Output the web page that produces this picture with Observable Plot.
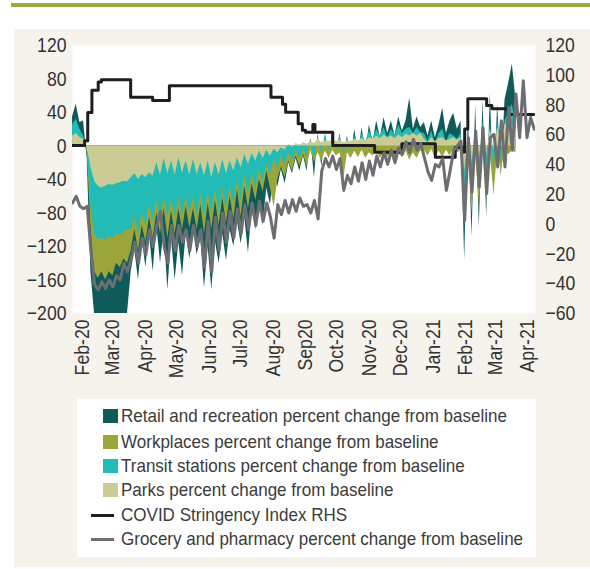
<!DOCTYPE html>
<html><head><meta charset="utf-8">
<script src="https://cdn.jsdelivr.net/npm/d3@7"></script>
<script src="https://cdn.jsdelivr.net/npm/@observablehq/plot@0.6"></script>
<style>
body{margin:0;background:#fff;}
#wrap{position:relative;width:590px;height:569px;overflow:hidden;font-family:'Liberation Sans',Arial,sans-serif;}
#rule{position:absolute;left:11px;top:3px;width:579px;height:4px;background:#9cab3e;}
#panel{position:absolute;left:14px;top:29px;width:576px;height:538px;background:#f6f2ec;}
#chart{position:absolute;left:0;top:0;}
#legend{position:absolute;left:77px;top:399px;width:459px;height:158px;background:#fff;}
.item{position:absolute;left:0;width:459px;height:24px;}
.item span{position:absolute;left:44px;top:0;line-height:24px;font-size:18.5px;color:#3b3b3b;white-space:nowrap;display:inline-block;transform:scaleX(0.92);transform-origin:0 50%;}
.sq{position:absolute;left:26px;top:5px;width:15px;height:14px;}
.ln{position:absolute;left:14px;top:11px;width:23px;height:3px;}
</style></head>
<body><div id="wrap"><div id="rule"></div><div id="panel"></div><div id="chart"></div><div id="legend"></div></div>
<script>
// ---- data (one value every 3.5 days from 22 Jan 2020) ----
const seriesStart = Date.UTC(2020, 0, 22, 12);
const seriesStepDays = 3.5;

const retail = [35,50,28,30,-15,-150,-200,-200,-200,-200,-200,-200,-200,-200,-200,-200,
-150,-125,-160,-110,-145,-105,-150,-95,-140,-100,-172,-110,-160,-115,-155,-105,-135,
-100,-130,-110,-170,-120,-172,-115,-140,-105,-137,-100,-120,-90,-117,-85,-128,-75,-100,-65,-95,-50,-70,-35,-49,-28,-45,-20,-33,-15,-30,-12,
-30,10,-38,15,-25,12,-15,18,-10,15,-20,12,-15,20,-10,22,-8,25,5,30,10,34,15,30,12,35,18,30,57,20,35,22,
28,12,30,10,25,45,15,30,39,20,30,-137,40,-109,50,-97,55,-85,63,-60,50,-37,55,75,98,55];

const workplaces = [8,6,10,4,-8,-95,-150,-158,-150,-160,-150,-155,-140,-145,-135,-140,
-125,-100,-125,-95,-115,-85,-110,-80,-105,-75,-110,-78,-105,-75,-100,-72,-98,
-75,-100,-70,-105,-68,-100,-65,-95,-62,-92,-60,-88,-52,-85,-48,-75,-45,-65,-40,-55,-30,-50,-73,-40,-25,-38,-18,-30,-12,-25,-10,
-25,-5,-20,-8,-18,-6,-15,-5,-12,-8,-40,-8,-15,-6,-14,-5,-15,-8,-12,-6,-15,-8,-14,-6,-16,-8,-14,-6,-17,-8,-15,-6,
-5,-12,-4,-15,-6,-14,-5,-12,-4,-8,-6,-97,-10,-81,-12,-70,-8,-65,-10,-57,-8,-30,-5,-10,-6,-8];

const transit = [25,32,20,12,-5,-70,-105,-112,-110,-113,-108,-110,-105,-107,-103,-100,
-100,-85,-105,-80,-95,-70,-90,-65,-88,-62,-85,-65,-85,-62,-82,-62,-80,
-60,-82,-58,-85,-55,-82,-52,-80,-50,-75,-48,-70,-40,-65,-35,-58,-33,-50,-28,-42,-22,-35,-15,-28,-12,-22,-8,-18,-5,-15,-3,
-12,8,-18,12,-10,15,-5,10,-5,12,-10,8,-5,12,-3,15,5,18,8,20,12,22,10,20,12,25,15,20,22,15,22,16,
15,5,18,3,15,20,5,15,12,8,15,-60,20,-50,25,-45,30,-40,28,-30,32,-20,30,40,50,25];

const parks = [12,15,10,8,-3,-25,-42,-48,-50,-48,-46,-47,-45,-44,-42,-43,
-38,-33,-40,-34,-38,-32,-36,-20,-35,-15,-33,-18,-35,-14,-32,-18,-35,
-16,-34,-20,-36,-18,-38,-20,-35,-16,-33,-18,-30,-14,-26,-10,-22,-9,-18,-6,-15,-5,-12,-4,-8,-2,-5,2,-2,3,1,4,
2,5,3,8,4,6,5,8,5,7,4,6,5,8,6,9,6,10,8,12,9,13,10,12,9,13,10,14,12,15,12,15,
8,4,10,5,9,10,6,8,10,7,10,-30,12,-20,15,-15,18,-10,20,-5,22,5,25,27,25,20];

const grocery = [-68,-60,-72,-75,-72,-125,-165,-172,-162,-170,-160,-168,-155,-160,-140,-150,
-135,-115,-140,-110,-130,-100,-120,-95,-78,-120,-140,-95,-125,-95,-115,-100,-125,
-95,-120,-100,-145,-90,-150,-85,-125,-80,-115,-78,-110,-75,-105,-70,-100,-68,-95,-66,-90,-68,-85,-110,-70,-82,-65,-80,-64,-78,-62,-72,
-70,-80,-65,-87,-30,-15,-25,-12,-28,-15,-53,-35,-45,-25,-42,-20,-40,-18,-35,-12,-25,-8,-22,-5,-20,-2,-10,5,-8,8,-5,3,
-14,-31,-41,-22,-25,-15,-53,-30,-5,0,6,-89,10,-55,18,-49,22,-57,10,14,-25,30,-25,46,-5,62,10,78,10,34,20];

// COVID Stringency Index (right-hand scale), change points
const stringencyDates = ["2020-01-22","2020-02-03","2020-02-06","2020-02-10","2020-02-16","2020-02-19","2020-03-18","2020-04-08","2020-04-24","2020-07-30","2020-08-10","2020-08-13","2020-08-25","2020-08-29","2020-09-01","2020-09-08","2020-09-10","2020-09-27","2020-11-06","2020-12-02","2021-01-03","2021-01-22","2021-01-29","2021-01-31","2021-02-03","2021-02-21","2021-02-26","2021-03-14","2021-04-07"];
const stringencyValues = [52.8,56,75,90,95.5,97,85.3,83,93,85.3,80.5,75.2,67.4,63,61.8,67,61.8,52.8,48.3,54,45,51.7,48.5,64,84.2,79.7,77.5,73.7,73.7];

const leftTicks = [120,80,40,0,-40,-80,-120,-160,-200];
const rightTicks = [120,100,80,60,40,20,0,-20,-40,-60];
const monthTickDates = ["2020-02-01","2020-03-01","2020-04-01","2020-05-01","2020-06-01","2020-07-01","2020-08-01","2020-09-01","2020-10-01","2020-11-01","2020-12-01","2021-01-01","2021-02-01","2021-03-01","2021-04-01"];
const monthTickLabels = ["Feb-20","Mar-20","Apr-20","May-20","Jun-20","Jul-20","Aug-20","Sep20","Oct-20","Nov-20","Dec-20","Jan-21","Feb-21","Mar-21","Apr-21"];

const legendItems = [
  ["Retail and recreation percent change from baseline", "#0f5b5a", "sq"],
  ["Workplaces percent change from baseline", "#9aa53a", "sq"],
  ["Transit stations percent change from baseline", "#22bbb6", "sq"],
  ["Parks percent change from baseline", "#cbcc95", "sq"],
  ["COVID Stringency Index RHS", "#1e1e1e", "ln"],
  ["Grocery and pharmacy percent change from baseline", "#6d6e71", "ln"]
];

// ---- build ----
const colors = {retail:"#0f5b5a", work:"#9aa53a", transit:"#22bbb6", parks:"#cbcc95", str:"#1e1e1e", groc:"#6d6e71"};
const dayMs = 864e5;
const rows = vals => vals.map((v, i) => ({date: new Date(seriesStart + i * seriesStepDays * dayMs), v}));
const L = [-200, 120], R = [-60, 120];
const toLeft = r => L[0] + (r - R[0]) * (L[1] - L[0]) / (R[1] - R[0]);
const fromLeft = l => R[0] + (l - L[0]) * (R[1] - R[0]) / (L[1] - L[0]);
const fmt = v => v < 0 ? "\u2212" + Math.abs(v) : String(v);
const parse = s => new Date(s + "T00:00:00Z");
const tickDates = monthTickDates.map(parse);
const labelOf = new Map(tickDates.map((d, i) => [+d, monthTickLabels[i]]));
const stringency = stringencyDates.map((s, i) => ({date: parse(s), v: toLeft(stringencyValues[i])}));

const area = (vals, fill) => Plot.areaY(rows(vals), {x: "date", y1: 0, y2: "v", fill, clip: true});

const chart = Plot.plot({
  width: 590, height: 400,
  marginLeft: 72, marginRight: 55, marginTop: 45, marginBottom: 87,
  style: {background: "transparent", fontFamily: "'Liberation Sans',Arial,sans-serif", fontSize: "21px", color: "#333"},
  x: {type: "utc", domain: [new Date(Date.UTC(2020,0,22,10,47)), new Date(Date.UTC(2021,3,8,15,22))], axis: null},
  y: {domain: L, axis: null},
  marks: [
    Plot.frame({fill: "#ffffff", stroke: null}),
    area(retail, colors.retail),
    area(workplaces, colors.work),
    area(transit, colors.transit),
    area(parks, colors.parks),
    Plot.line(stringency, {x: "date", y: "v", curve: "step-after", stroke: colors.str, strokeWidth: 3, clip: true}),
    Plot.line(rows(grocery), {x: "date", y: "v", stroke: colors.groc, strokeWidth: 3, strokeLinejoin: "round", clip: true}),
    Plot.axisY(leftTicks, {anchor: "left", label: null, tickSize: 0, tickPadding: 6, tickFormat: fmt, fontSize: 20.5}),
    Plot.axisY(rightTicks.map(toLeft), {anchor: "right", label: null, tickSize: 0, tickPadding: 10, tickFormat: d => fmt(Math.round(fromLeft(d))), fontSize: 20.5}),
    Plot.axisX(tickDates, {anchor: "bottom", label: null, tickSize: 0, tickPadding: 6, tickRotate: -90, tickFormat: d => labelOf.get(+d), fontSize: 20.5})
  ]
});
document.getElementById("chart").appendChild(chart);
// condense the axis labels horizontally (the reference uses a condensed face)
chart.querySelectorAll("text").forEach(t => {
  const w = t.getComputedTextLength();
  if (w > 0) { t.setAttribute("textLength", (w * 0.86).toFixed(1)); t.setAttribute("lengthAdjust", "spacingAndGlyphs"); }
});

const leg = document.getElementById("legend");
const centers = [17, 42.5, 66.5, 91, 116, 140];
legendItems.forEach(([label, color, kind], i) => {
  const it = document.createElement("div");
  it.className = "item";
  it.style.top = (centers[i] - 12) + "px";
  const sw = document.createElement("div");
  sw.className = kind;
  sw.style.background = color;
  const tx = document.createElement("span");
  tx.textContent = label;
  it.appendChild(sw); it.appendChild(tx);
  leg.appendChild(it);
});
</script></body></html>
